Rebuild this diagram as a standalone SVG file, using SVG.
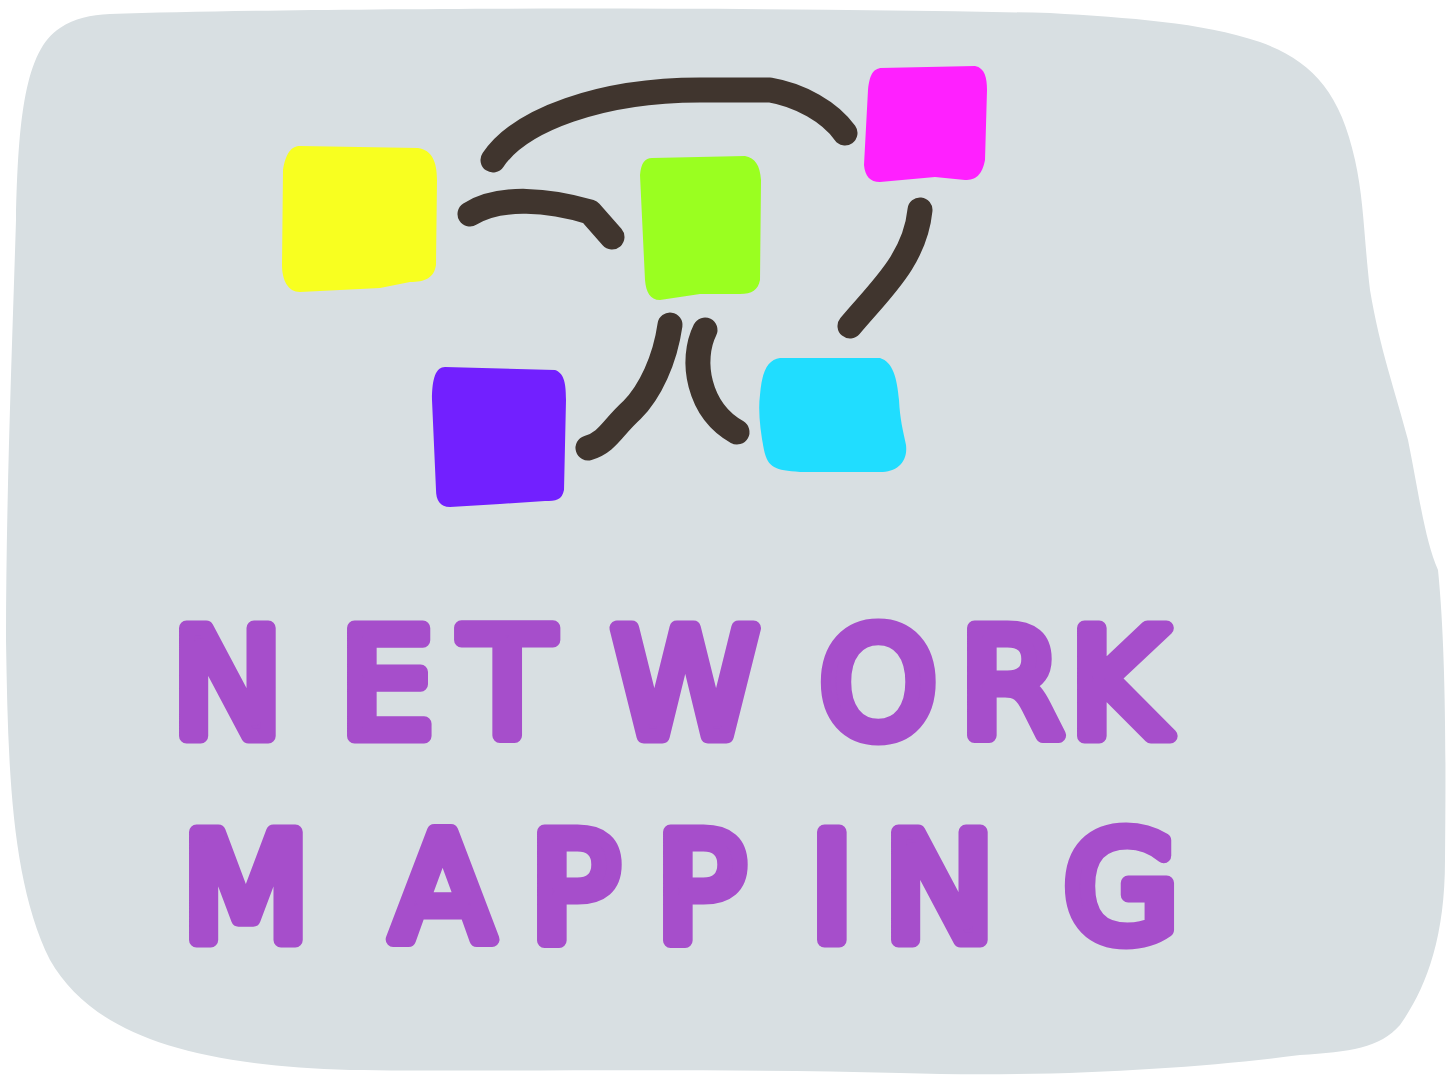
<svg xmlns="http://www.w3.org/2000/svg" width="1448" height="1077" viewBox="0 0 1448 1077">
<style>
.bg{fill:#d8dfe2}
.link{fill:none;stroke:#40352e;stroke-width:25;stroke-linecap:round;stroke-linejoin:round}
.title{font-family:"DejaVu Sans",sans-serif;font-weight:normal;font-size:148px;fill:#a64ecb;stroke:#a64ecb;stroke-width:15;stroke-linejoin:round;stroke-linecap:round}
</style>
<path class="bg" d="M110,14 C300,8 700,6 1050,13 C1130,18 1200,22 1260,42 C1310,60 1340,90 1355,160 C1364,200 1364,240 1370,290 C1380,350 1395,390 1408,440 C1420,500 1425,540 1438,570 C1446,650 1446,760 1445,860 C1445,940 1425,990 1400,1025 C1380,1048 1350,1052 1300,1055 C1200,1068 1050,1078 900,1073 C700,1068 500,1072 350,1070 C180,1065 90,1030 50,960 C10,880 8,760 6,640 C6,500 12,350 16,220 C18,120 25,50 60,28 C75,18 90,15 110,14 Z"/>
<g id="connectors">
<path class="link" d="M493,160 C520,120 600,90 700,90 L770,90 C800,95 830,112 845,133"/>
<path class="link" d="M470,214 C500,195 550,200 590,212 L612,237"/>
<path class="link" d="M920,210 C915,260 880,290 850,326"/>
<path class="link" d="M670,325 C665,360 650,392 632,410 C612,428 608,442 588,448"/>
<path class="link" d="M705,330 C690,360 698,410 737,432"/>
</g>
<g id="node-yellow"><path fill="#f8ff20" d="M300,146 L418,148 C432,150 437,162 437,180 L436,265 C434,278 425,282 410,282 L380,288 L300,292 C288,292 282,280 282,265 L283,170 C286,152 292,146 300,146 Z"/></g>
<g id="node-green"><path fill="#9aff20" d="M652,158 L745,156 C755,158 760,165 761,180 L760,280 C758,290 752,294 740,294 L700,294 L660,300 C650,300 646,292 645,280 L640,175 C641,163 645,158 652,158 Z"/></g>
<g id="node-magenta"><path fill="#ff20ff" d="M880,68 L975,66 C985,68 987,78 987,90 L985,160 C982,175 976,180 965,180 L935,177 L880,182 C870,182 865,176 864,165 L868,90 C870,72 874,70 880,68 Z"/></g>
<g id="node-purple"><path fill="#7220ff" d="M445,367 L555,370 C563,373 566,380 566,400 L564,490 C562,500 556,501 545,501 L500,504 L450,507 C440,507 436,500 436,490 L432,400 C432,378 436,367 445,367 Z"/></g>
<g id="node-cyan"><path fill="#20ddff" d="M780,358 L880,358 C893,362 897,378 899,400 C900,420 903,430 906,445 C908,462 897,472 880,472 L800,472 C775,470 768,468 764,450 C760,430 758,410 760,395 C762,370 768,360 780,358 Z"/></g>
<g id="title">
<text class="title" x="172 340 462 612 820 960 1070" y="736">NETWORK</text>
<text class="title" x="182 392 530 656 810 884 1064" y="940">MAPPING</text>
</g>
</svg>
